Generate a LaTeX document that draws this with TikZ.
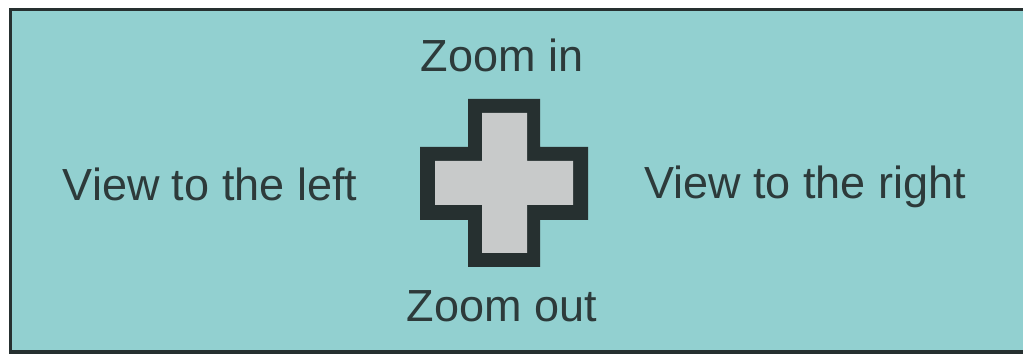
\documentclass[tikz,border=0pt]{standalone}
\usepackage{fontspec}
\setmainfont{Liberation Sans}
\definecolor{bgcyan}{RGB}{146,208,208}
\definecolor{darkline}{RGB}{38,48,48}
\definecolor{txt}{RGB}{45,58,58}
\definecolor{crossfill}{RGB}{200,202,202}
\tikzset{
  lbl/.style={anchor=base, inner sep=0pt, text=txt, font=\fontsize{45}{50}\selectfont},
}
\begin{document}
\begin{tikzpicture}[x=1pt,y=-1pt]
\useasboundingbox (0,0) rectangle (1023,355);
\fill[white] (0,0) rectangle (1023,355);
\begin{scope}
\clip (0,0) rectangle (1023,355);
\fill[bgcyan] (10,10) rectangle (1030,352);
\draw[darkline, line width=3.5] (10.5,9.5) rectangle (1030,352);
\end{scope}
% cross outer
\fill[darkline] (468,99) -- (540,99) -- (540,147) -- (588,147) -- (588,220) -- (540,220) -- (540,267) -- (468,267) -- (468,220) -- (420,220) -- (420,147) -- (468,147) -- cycle;
% cross inner
\fill[crossfill] (482,113) -- (527,113) -- (527,161) -- (573,161) -- (573,205) -- (527,205) -- (527,253) -- (482,253) -- (482,205) -- (435,205) -- (435,161) -- (482,161) -- cycle;
\node[lbl] (zin) at (502,72) {Zoom in};
\node[lbl] (zout) at (502,322) {Zoom out};
\node[lbl] (vleft) at (210,201) {View to the left};
\node[lbl] (vright) at (805,199) {View to the right};
\end{tikzpicture}
\end{document}
